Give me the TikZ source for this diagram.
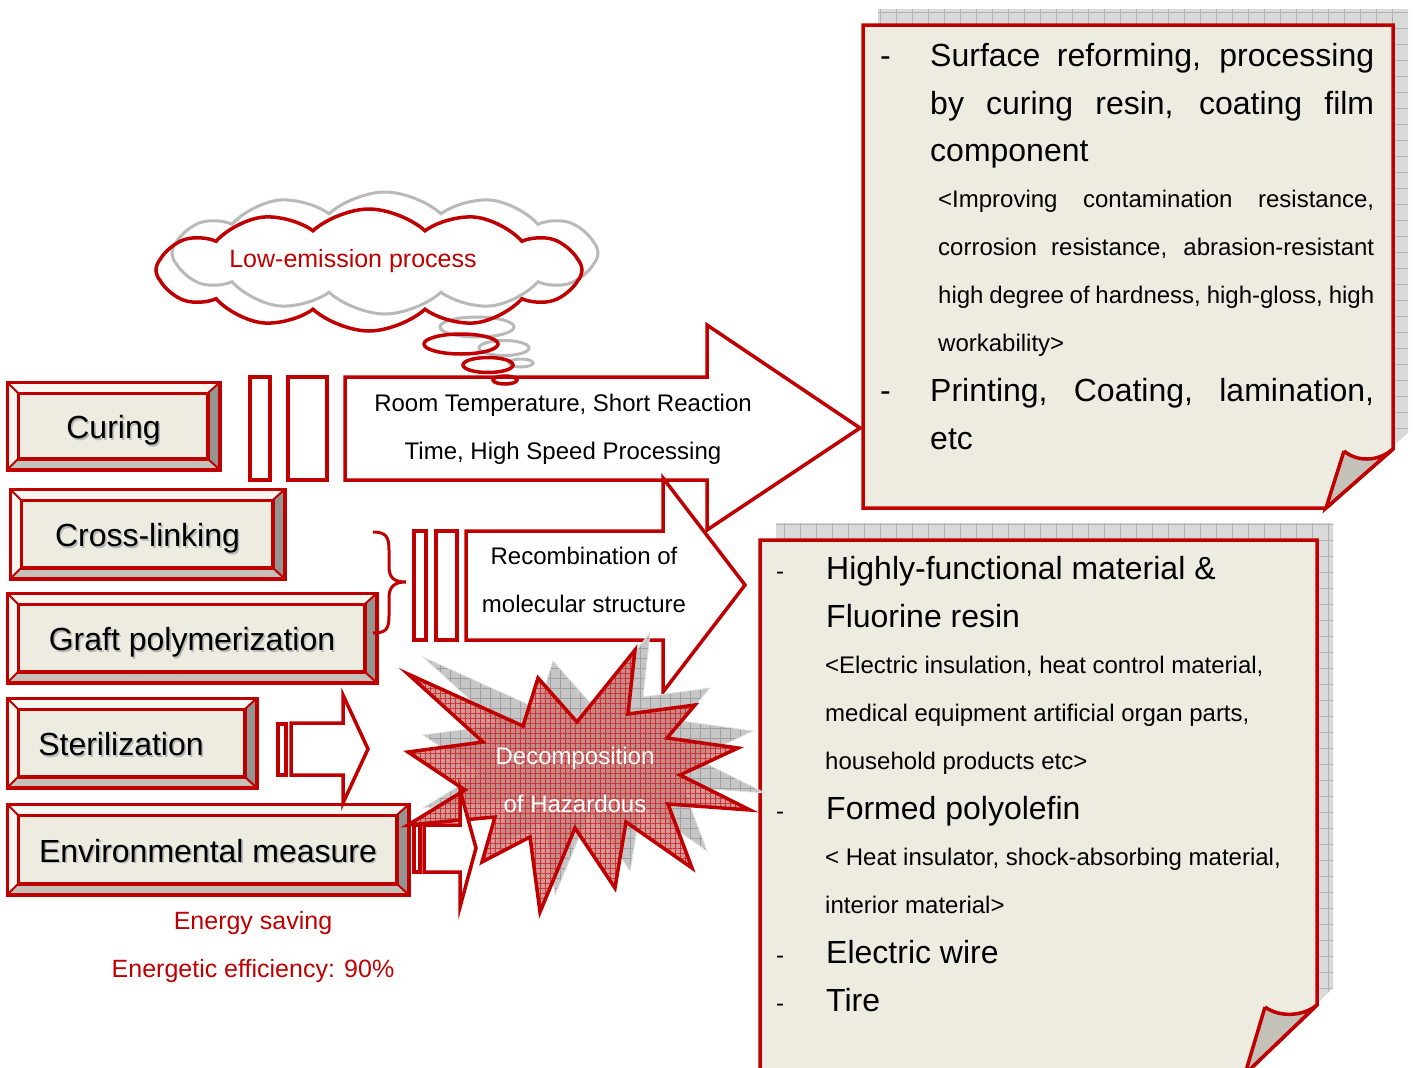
\documentclass[tikz,border=0pt]{standalone}
\usepackage{fontspec}
\setmainfont{Liberation Sans}
\usetikzlibrary{shapes.symbols, patterns.meta, calc}
\definecolor{MarkRed}{RGB}{192,0,0}
\definecolor{PaperCream}{RGB}{238,236,225}
\definecolor{BevelLight}{RGB}{247,246,241}
\definecolor{BevelDark}{RGB}{148,148,144}
\definecolor{BevelLow}{RGB}{196,193,184}
\definecolor{BurstFill}{RGB}{196,120,120}
\newcommand{\shtxt}[1]{\rlap{\kern1.6pt\raisebox{-1.6pt}{\color{black!28}#1}}#1}
\newcommand{\jline}[2]{\makebox[#1][s]{#2}}
\tikzset{
  btn/.style={draw=MarkRed, fill=PaperCream, line width=3.5pt, inner sep=0pt,
    text height=27pt, text depth=2pt, font=\fontsize{32}{38}\selectfont},
  bigtxt/.style={anchor=base west, inner sep=0pt, font=\fontsize{32}{38}\selectfont},
  smalltxt/.style={anchor=base west, inner sep=0pt, font=\fontsize{24}{28}\selectfont},
  midtxt/.style={anchor=base, inner sep=0pt, font=\fontsize{24}{28}\selectfont},
  redtxt/.style={anchor=base, inner sep=0pt, text=MarkRed, font=\fontsize{25}{30}\selectfont},
  redline/.style={draw=MarkRed, line width=3.5pt, line join=miter},
  grayline/.style={draw=gray!55, line width=3pt},
  blockarrow/.style={redline, fill=white},
  thought/.style={cloud, cloud puffs=12, cloud puff arc=85, cloud ignores aspect,
    minimum width=426pt, minimum height=122pt, inner sep=0pt},
  sheetshadow/.style={preaction={fill=gray!30}, pattern={Hatch[angle=0,distance=16pt,line width=0.6pt]}, pattern color=gray!60},
  burstshadow/.style={preaction={fill=gray!45}, pattern={Hatch[angle=0,distance=10pt,line width=0.7pt]}, pattern color=gray!75, draw=gray!25, line width=0.8pt},
  burst/.style={redline, preaction={fill=BurstFill, fill opacity=0.75}, pattern={Hatch[angle=0,distance=5pt,line width=0.9pt]}, pattern color=MarkRed!80},
}
\begin{document}
\begin{tikzpicture}[x=1pt, y=-1pt]
    \useasboundingbox (0,0) rectangle (1414,1068);
    \def\burstpts{(408,674) -- (523,726) -- (538,678) -- (577,722) -- (635,650) -- (628,714) -- (695,705) -- (667,738) -- (738,748) -- (680,775) -- (750,810) -- (668,804) -- (692,868) -- (626,822) -- (615,888) -- (575,828) -- (540,912) -- (530,837) -- (482,862) -- (495,817) -- (408,825) -- (465,790) -- (408,752) -- (483,742) -- cycle}
    % Upper sheet
    \path[sheetshadow] (878,9) -- (1408,9) -- (1408,433) -- (1341,492) -- (878,492) -- cycle;
    \draw[redline, fill=PaperCream] (863,25) -- (1393,25) -- (1393,449) -- (1326,508) -- (863,508) -- cycle;
    \draw[redline, fill=BevelLow] (1344,451) -- (1326,508) -- (1393,449) .. controls (1378,462) and (1357,462) .. (1344,451);
    % Lower sheet
    \path[sheetshadow] (776,523) -- (1333,523) -- (1333,988) -- (1262,1058) -- (776,1058) -- cycle;
    \draw[redline, fill=PaperCream] (760,540) -- (1317,540) -- (1317,1005) -- (1245,1074) -- (760,1074) -- cycle;
    \draw[redline, fill=BevelLow] (1265,1007) -- (1245,1074) -- (1317,1005) .. controls (1304,1016) and (1280,1018) .. (1265,1007);
    % Buttons
    \node[btn, minimum width=209pt, minimum height=84pt] (curing) at (113.5,426) {\shtxt{Curing}};
    \node[btn, minimum width=271pt, minimum height=86pt] (crosslink) at (147.5,534) {\shtxt{Cross-linking}};
    \node[btn, minimum width=366pt, minimum height=86pt] (graft) at (192,638) {\shtxt{Graft polymerization}};
    \node[btn, minimum width=246pt, minimum height=86pt] (steril) at (132,743) {\hspace*{-22pt}\shtxt{Sterilization}};
    \node[btn, minimum width=398pt, minimum height=87pt] (envmeas) at (208,849.5) {\shtxt{Environmental measure}};
    \foreach \b in {curing,crosslink,graft,steril,envmeas} {
        \fill[BevelLight] (\b.north west) -- (\b.north east) -- ($(\b.north east)+(-12,11)$) -- ($(\b.north west)+(11,11)$) -- cycle;
        \fill[BevelLight] (\b.north west) -- ($(\b.north west)+(11,11)$) -- ($(\b.south west)+(11,-11)$) -- (\b.south west) -- cycle;
        \fill[BevelDark] (\b.north east) -- (\b.south east) -- ($(\b.south east)+(-12,-11)$) -- ($(\b.north east)+(-12,11)$) -- cycle;
        \fill[BevelLow] (\b.south west) -- (\b.south east) -- ($(\b.south east)+(-12,-11)$) -- ($(\b.south west)+(11,-11)$) -- cycle;
        \draw[redline] (\b.north west) rectangle (\b.south east);
        \draw[redline] ($(\b.north west)+(11,11)$) rectangle ($(\b.south east)+(-12,-11)$);
        \draw[MarkRed, line width=2pt] (\b.north west) -- ++(11,11) (\b.north east) -- ++(-12,11)
            (\b.south west) -- ++(11,-11) (\b.south east) -- ++(-12,-11);
    }
    % Curing -> upper sheet
    \draw[blockarrow] (250,377) rectangle (270,480);
    \draw[blockarrow] (288,377) rectangle (327,480);
    \draw[blockarrow] (345,377) -- (707,377) -- (707,325) -- (860,428) -- (707,530) -- (707,480) -- (345,480) -- cycle;
    % Cross-linking, graft -> lower sheet
    \draw[redline, line width=3pt] (373,532) .. controls (386,532) and (389,537) .. (389,550) -- (389,566)
        .. controls (389,578) and (394,582) .. (406,582) .. controls (394,582) and (389,587) .. (389,598)
        -- (389,616) .. controls (389,629) and (386,633) .. (373,633);
    \draw[blockarrow] (414,531) rectangle (426,640);
    \draw[blockarrow] (436,531) rectangle (457,640);
    \draw[blockarrow] (466,531) -- (663,531) -- (663,478) -- (745,585) -- (663,692) -- (663,640) -- (466,640) -- cycle;
    % Sterilization arrow
    \draw[blockarrow] (278,724) rectangle (286,775);
    \draw[blockarrow] (291,723) -- (343,723) -- (343,695) -- (368,749) -- (343,803) -- (343,775) -- (291,775) -- cycle;
    % Burst
    \path[burstshadow, shift={(15,-17)}] \burstpts;
    \path[burst] \burstpts;
    \node[midtxt, text=white] (decomp1) at (575,764) {Decomposition};
    \node[midtxt, text=white] (decomp2) at (575,812) {of Hazardous};
    % Environmental arrow
    \draw[blockarrow] (414,825) rectangle (420,872);
    \draw[blockarrow] (424,825) -- (460,825) -- (460,790) -- (476,848) -- (460,907) -- (460,872) -- (424,872) -- cycle;
    % Thought cloud
    \node[thought, grayline] (cloudshadow) at (385,253) {};
    \foreach \cx/\cy/\rx/\ry in {461/344/37/10, 488/365/25/7.5, 505/380/12/4}
        \draw[grayline] (\cx+16,\cy-17) ellipse [x radius=\rx, y radius=\ry];
    \node[thought, redline] (lowcloud) at (369,270) {};
    \foreach \cx/\cy/\rx/\ry in {461/344/37/10, 488/365/25/7.5, 505/380/12/4}
        \draw[redline] (\cx,\cy) ellipse [x radius=\rx, y radius=\ry];
    \node[redtxt] (lowtxt) at (353,267) {Low-emission process};
    % Arrow texts
    \node[midtxt] (roomtxt1) at (563,411) {Room Temperature, Short Reaction};
    \node[midtxt] (roomtxt2) at (563,459) {Time, High Speed Processing};
    \node[midtxt] (recomb1) at (584,564) {Recombination of};
    \node[midtxt] (recomb2) at (584,612) {molecular structure};
    % Energy notes
    \node[redtxt] (energy1) at (253,929) {Energy saving};
    \node[redtxt] (energy2) at (253,977) {Energetic efficiency: 90\%};
    % Upper sheet text
    \node[bigtxt] (udash1) at (880,66) {-};
    \node[bigtxt] (up1) at (930,66) {\jline{444pt}{Surface reforming, processing}};
    \node[bigtxt] (up2) at (930,114) {\jline{444pt}{by curing resin, coating film}};
    \node[bigtxt] (up3) at (930,161) {component};
    \node[smalltxt] (up4) at (938,207) {\jline{436pt}{<Improving contamination resistance,}};
    \node[smalltxt] (up5) at (938,255) {\jline{436pt}{corrosion resistance, abrasion-resistant}};
    \node[smalltxt] (up6) at (938,303) {\jline{436pt}{high degree of hardness, high-gloss, high}};
    \node[smalltxt] (up7) at (938,351) {workability>};
    \node[bigtxt] (udash2) at (880,401) {-};
    \node[bigtxt] (up8) at (930,401) {\jline{444pt}{Printing, Coating, lamination,}};
    \node[bigtxt] (up9) at (930,449) {etc};
    % Lower sheet text
    \node[smalltxt] (ldash1) at (776,579) {-};
    \node[bigtxt] (lo1) at (826,579) {Highly-functional material \&};
    \node[bigtxt] (lo2) at (826,627) {Fluorine resin};
    \node[smalltxt] (lo3) at (825,673) {<Electric insulation, heat control material,};
    \node[smalltxt] (lo4) at (825,721) {medical equipment artificial organ parts,};
    \node[smalltxt] (lo5) at (825,769) {household products etc>};
    \node[smalltxt] (ldash2) at (776,819) {-};
    \node[bigtxt] (lo6) at (826,819) {Formed polyolefin};
    \node[smalltxt] (lo7) at (825,865) {< Heat insulator, shock-absorbing material,};
    \node[smalltxt] (lo8) at (825,913) {interior material>};
    \node[smalltxt] (ldash3) at (776,963) {-};
    \node[bigtxt] (lo9) at (826,963) {Electric wire};
    \node[smalltxt] (ldash4) at (776,1011) {-};
    \node[bigtxt] (lo10) at (826,1011) {Tire};
\end{tikzpicture}
\end{document}
